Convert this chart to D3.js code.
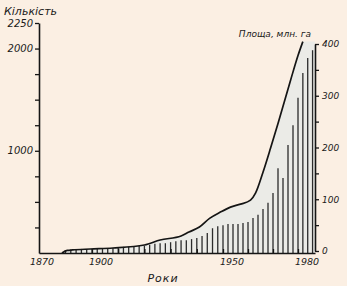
<!DOCTYPE html>
<html>
<head>
<meta charset="utf-8">
<script src="https://cdn.jsdelivr.net/npm/d3@7/dist/d3.min.js"></script>
<style>
  html,body{margin:0;padding:0;background:#fbefe3}
  svg{display:block}
  text{font-family:"DejaVu Sans",sans-serif;font-style:italic;fill:#1a1a1a}
</style>
</head>
<body>
<svg id="chart" width="347" height="286"></svg>
<script>
// кількість (ліва вісь) - суцільна крива
const countYears=[1883,1886,1889,1899,1908,1920,1926,1934,1937,1941,1945,1949,1953,1957,1961,1963,1966,1969,1972,1977,1980,1982]
const countValues=[0,25,30,39,49,78,127,166,205,254,341,400,449,478,517,585,790,1024,1268,1688,1932,2068]

// площа, млн. га (права вісь) - вертикальне штрихування
const areaYears=[1885,1888,1891,1894,1897,1900,1902,1904,1906,1908,1910,1912,1914,1916,1918,1920,1922,1924,1926,1928,1930,1932,1934,1936,1938,1940,1942,1944,1946,1948,1950,1952,1954,1956,1958,1960,1962,1964,1966,1968,1970,1972,1974,1976,1978,1980,1982,1984,1986]
const areaValues=[2,3,3,4,4,4,4,5,5,6,7,8,8,9,10,10,12,14,15,15,17,19,21,21,23,25,29,35,44,48,50,52,52,52,54,56,64,70,81,93,112,160,141,205,243,296,344,373,388]

const yearLabels=[1870,1900,1950,1980]
const yearTicks=[1900,1910,1920,1930,1940,1950,1960,1970,1980]
const countTicks=[250,500,750,1000,1250,1500,1750,2000,2250]
const countLabels=[1000,2000,2250]
const areaTicks=[0,50,100,150,200,250,300,350,400]

const svg=d3.select('#chart')

const x=d3.scaleLinear().domain([1870,1900,1950,1980,1987]).range([39,92,223,298,315])
const yL=d3.scaleLinear().domain([0,2250]).range([253,23])
const yR=d3.scaleLinear().domain([0,400]).range([251,44])

const countData=countYears.map((d,i)=>({year:d,value:countValues[i]}))
const fillData=countData.concat([{year:x.domain()[x.domain().length-1],value:countValues[countValues.length-1]}])

svg.append('path')
  .datum(fillData)
  .attr('fill','#ebebe7')
  .attr('d',d3.area()
    .x(d=>x(d.year))
    .y0(yL(0))
    .y1(d=>yL(d.value))
    .curve(d3.curveMonotoneX))

svg.append('g')
  .selectAll('line')
  .data(areaYears)
  .join('line')
  .attr('x1',d=>x(d))
  .attr('x2',d=>x(d))
  .attr('y1',yL(0))
  .attr('y2',(d,i)=>yR(areaValues[i]))
  .attr('stroke','#2b2b2b')
  .attr('stroke-width',1.3)

svg.append('path')
  .datum(countData)
  .attr('fill','none')
  .attr('stroke','#151515')
  .attr('stroke-width',1.7)
  .attr('stroke-linejoin','round')
  .attr('d',d3.line()
    .x(d=>x(d.year))
    .y(d=>yL(d.value))
    .curve(d3.curveMonotoneX))

const axisStyle=g=>{
  g.select('.domain').attr('stroke','#151515').attr('stroke-width',1.6)
  g.selectAll('.tick line').attr('stroke','#151515').attr('stroke-width',1.3)
  g.selectAll('text').attr('fill','#1a1a1a')
}

svg.append('g')
  .attr('transform',`translate(${x(1870)},0)`)
  .call(d3.axisLeft(yL)
    .tickValues(countTicks)
    .tickSize(4)
    .tickSizeOuter(0)
    .tickPadding(2)
    .tickFormat(d=>countLabels.includes(d)?d:''))
  .call(axisStyle)
  .selectAll('text')
  .attr('font-size',10)
  .attr('font-family','DejaVu Sans')

svg.append('g')
  .attr('transform',`translate(0,${yL(0)})`)
  .call(d3.axisBottom(x)
    .tickValues(yearTicks)
    .tickSize(-4)
    .tickSizeOuter(0)
    .tickFormat(''))
  .call(axisStyle)

svg.append('g')
  .attr('transform',`translate(${x(1987)},0)`)
  .call(d3.axisRight(yR)
    .tickValues(areaTicks)
    .tickSize(4)
    .tickSizeOuter(0)
    .tickPadding(3)
    .tickFormat(d=>d%100===0?d:''))
  .call(axisStyle)
  .selectAll('text')
  .attr('font-size',9)
  .attr('font-family','DejaVu Sans')

svg.append('g')
  .selectAll('text')
  .data(yearLabels)
  .join('text')
  .attr('x',d=>d===1870?x(d)+3:x(d)+9)
  .attr('y',265)
  .attr('text-anchor','middle')
  .attr('font-size',9.5)
  .text(d=>d)

svg.append('text')
  .attr('x',4)
  .attr('y',15)
  .attr('font-size',11)
  .text('Кількість')

svg.append('text')
  .attr('x',311)
  .attr('y',37)
  .attr('text-anchor','end')
  .attr('font-size',9)
  .text('Площа, млн. га')

svg.append('text')
  .attr('x',163)
  .attr('y',282)
  .attr('text-anchor','middle')
  .attr('font-size',11)
  .attr('letter-spacing',1)
  .text('Роки')
</script>
</body>
</html>
